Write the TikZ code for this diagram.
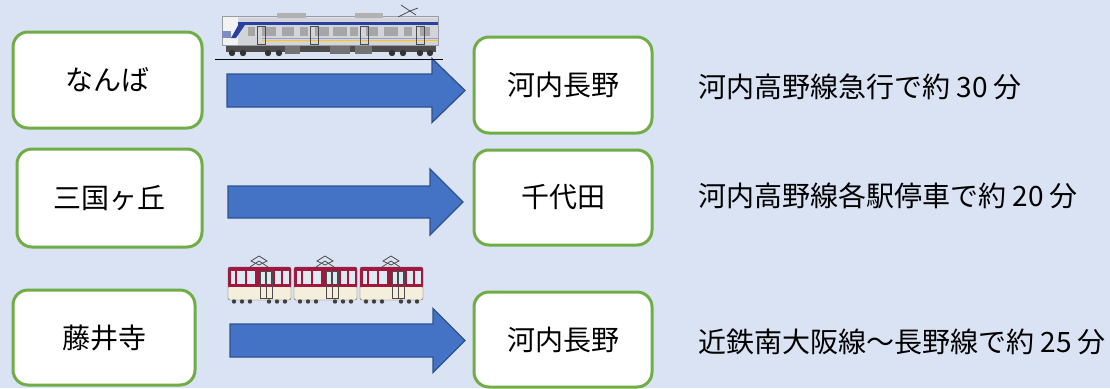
\documentclass[tikz,border=0pt]{standalone}
\usepackage{fontspec}
\setmainfont{Noto Sans CJK JP}
\usetikzlibrary{calc}
\definecolor{bg}{HTML}{DAE3F3}
\definecolor{boxgreen}{HTML}{70AD47}
\definecolor{arrowfill}{HTML}{4472C4}
\definecolor{arrowline}{HTML}{2F528F}
\definecolor{silver}{HTML}{D2D4D9}
\definecolor{silverdark}{HTML}{9A9CA3}
\definecolor{nkblue}{HTML}{2B3F9E}
\definecolor{kred}{HTML}{A3173F}
\definecolor{kcream}{HTML}{F4EEDC}
\definecolor{kwin}{HTML}{DDEAF2}
\tikzset{
  stbox/.style={draw=boxgreen, line width=3pt, fill=white, rounded corners=15pt,
    font=\fontsize{28}{31}\selectfont, inner sep=0pt},
  timetext/.style={anchor=west, font=\fontsize{28}{31}\selectfont, inner sep=0pt},
  blockarrow/.style={fill=arrowfill, draw=arrowline, line width=1.3pt, line join=miter},
}
\newcommand{\BlockArrow}[6]{% x0, xbase, xtip, yc, shaft half, head half
  \draw[blockarrow] (#1,#4-#5) -- (#2,#4-#5) -- (#2,#4-#6) -- (#3,#4)
    -- (#2,#4+#6) -- (#2,#4+#5) -- (#1,#4+#5) -- cycle;}
\newcommand{\KCar}[1]{% left x of a Kintetsu car
  \fill[kred, rounded corners=2pt] (#1,267) rectangle (#1+63,288);
  \fill[kcream, rounded corners=2pt] (#1,287) rectangle (#1+63,300);
  \draw[gray!70!black, line width=0.4pt, rounded corners=2pt] (#1,267) rectangle (#1+63,300);
  \foreach \wx/\ww in {3/4,9/8,19/8,33/4,39/4,47/6,55/6}{
    \fill[kwin] (#1+\wx,271) rectangle (#1+\wx+\ww,284);}
  \draw[gray!60!black, line width=0.5pt] (#1+32,271) rectangle (#1+44,298);
  \draw[gray!60!black, line width=0.5pt] (#1+38,271) -- (#1+38,298);
  \draw[black!70, line width=0.8pt] (#1+22,267) -- (#1+31,261) -- (#1+40,267);
  \draw[black!70, line width=0.8pt] (#1+23,261) -- (#1+31,256) -- (#1+39,261) -- (#1+31,265) -- cycle;
  \foreach \hx in {6,14,22,41,49,57}{\fill[black!75] (#1+\hx,301.5) circle (2.2pt);}
}
\begin{document}
\begin{tikzpicture}[x=1pt,y=-1pt]
\fill[bg] (0,0) rectangle (1110,388);
\useasboundingbox (0,0) rectangle (1110,388);

% boxes
\node[stbox, minimum width=189pt, minimum height=96pt] (nanba) at (107.5,80) {なんば};
\node[stbox, minimum width=185pt, minimum height=98pt] (mikuni) at (109.5,198) {三国ヶ丘};
\node[stbox, minimum width=182pt, minimum height=95pt] (fujii) at (104,337.5) {藤井寺};
\node[stbox, minimum width=178pt, minimum height=96pt] (kawa1) at (563,85) {河内長野};
\node[stbox, minimum width=178pt, minimum height=95pt] (chiyo) at (563,197.5) {千代田};
\node[stbox, minimum width=178pt, minimum height=95pt] (kawa2) at (563,339.5) {河内長野};

% block arrows
\BlockArrow{227}{432}{465}{90.5}{16.5}{32}
\BlockArrow{228}{430}{463}{202}{16}{33}
\BlockArrow{230}{433}{465}{340.5}{16.5}{32}

% texts
\node[timetext] (t1) at (698,87) {河内高野線急行で約 30 分};
\node[timetext] (t2) at (698,196) {河内高野線各駅停車で約 20 分};
\node[timetext] (t3) at (698,342) {近鉄南大阪線～長野線で約 25 分};

% Nankai train (top)
\draw[black, line width=1pt] (215,59) -- (443,59);
\fill[black!70] (226,44) rectangle (436,52);
\foreach \bx in {232,243,268,279,392,403,420,430}{\fill[black!80] (\bx,53) circle (3.2pt);}
\fill[black!55] (285,44) rectangle (300,54);
\fill[black!55] (330,44) rectangle (350,54);
\fill[black!55] (355,44) rectangle (372,54);
\fill[silver] (222,18) rectangle (438,45);
\fill[white!90!gray] (222,16) rectangle (238,45);
\draw[silverdark, line width=0.5pt] (222,16) rectangle (438,45);
\fill[nkblue] (238,22) rectangle (438,25);
\fill[nkblue] (240,22) -- (247,22) -- (236,38) -- (231,38) -- cycle;
\fill[nkblue!60] (222,31) rectangle (231,38);
\fill[yellow!60!orange] (262,39.5) rectangle (438,41);
\fill[nkblue!50] (262,37.5) rectangle (438,39);
\foreach \wx/\ww in {248/7,262/14,282/12,300/8,315/14,333/14,350/8,366/12,384/14,404/8,420/10}{
  \fill[gray!70] (\wx,27) rectangle (\wx+\ww,36);}
\foreach \dx in {257,310,360,416}{\draw[gray!60!black, line width=0.5pt] (\dx,26) rectangle (\dx+8,44);}
\fill[gray!60] (277,13) rectangle (306,18);
\fill[gray!60] (355,13) rectangle (383,18);
\draw[black!70, line width=0.8pt] (398,17) -- (410,11) -- (416,15);
\draw[black!70, line width=0.8pt] (410,11) -- (401,5);
\draw[black!70, line width=0.8pt] (410,11) -- (418,8);

% Kintetsu train (bottom)
\KCar{228}
\KCar{294}
\KCar{360}
\end{tikzpicture}
\end{document}
